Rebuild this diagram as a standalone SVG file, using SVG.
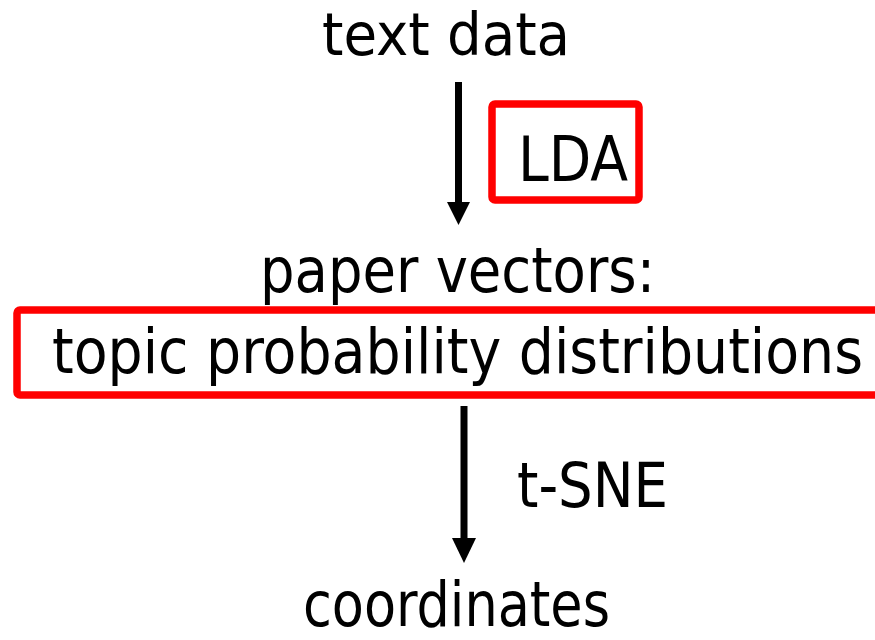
<svg xmlns="http://www.w3.org/2000/svg" width="875" height="640" viewBox="0 0 875 640">
<style>
.t{font-family:"DejaVu Sans Condensed","DejaVu Sans",sans-serif;font-stretch:condensed;font-size:62px;fill:#000}
.box{fill:none;stroke:#ff0000;stroke-width:7.5}
.shaft{stroke:#000;stroke-width:7;fill:none}
.head{fill:#000}
</style>
<rect width="875" height="640" fill="#fff"/>
<g id="text-data"><text class="t" x="322" y="55" style="font-size:58px" textLength="248" lengthAdjust="spacingAndGlyphs">text data</text></g>
<g id="lda"><rect class="box" x="492" y="104" width="147" height="96" rx="3"/><text class="t" x="518" y="181" textLength="110" lengthAdjust="spacingAndGlyphs">LDA</text></g>
<g id="paper-vectors"><text class="t" x="260" y="292" textLength="395" lengthAdjust="spacingAndGlyphs">paper vectors:</text></g>
<g id="topic-dist"><rect class="box" x="17" y="310" width="875" height="85" rx="3"/><text class="t" x="52" y="373" textLength="811" lengthAdjust="spacingAndGlyphs">topic probability distributions</text></g>
<g id="tsne"><text class="t" x="517" y="507" textLength="151" lengthAdjust="spacingAndGlyphs">t-SNE</text></g>
<g id="coordinates"><text class="t" x="303" y="626" textLength="307" lengthAdjust="spacingAndGlyphs">coordinates</text></g>
<g id="connectors">
<line class="shaft" x1="458.5" y1="82" x2="458.5" y2="204"/>
<polygon class="head" points="447,202 470,202 458.5,225"/>
<line class="shaft" x1="464" y1="406" x2="464" y2="540"/>
<polygon class="head" points="452,538 476,538 464,563"/>
</g>
</svg>
